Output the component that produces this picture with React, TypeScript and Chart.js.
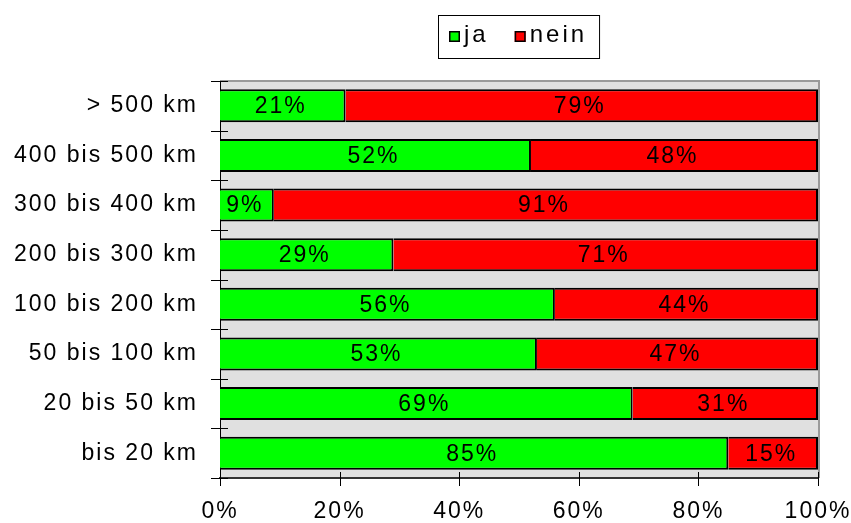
import React, { useEffect, useRef } from "react";
import { Chart, registerables } from "chart.js";

Chart.register(...registerables);

const categories = [
  "> 500 km",
  "400 bis 500 km",
  "300 bis 400 km",
  "200 bis 300 km",
  "100 bis 200 km",
  "50 bis 100 km",
  "20 bis 50 km",
  "bis 20 km",
];
const jaValues = [21, 52, 9, 29, 56, 53, 69, 85];
const neinValues = [79, 48, 91, 71, 44, 47, 31, 15];
const xTickValues = [0, 20, 40, 60, 80, 100];
const seriesNames = ["ja", "nein"];
const seriesColors = ["#00ff00", "#ff0000"];

const FONT_FAMILY = '"Liberation Sans", Arial, sans-serif';
const FONT_SIZE = 23;
const SPACING = "2px";

const spacingPlugin = {
  id: "spacing",
  beforeUpdate(chart: any) {
    chart.ctx.letterSpacing = SPACING;
  },
  beforeDraw(chart: any) {
    const ctx = chart.ctx;
    ctx.letterSpacing = SPACING;
    const a = chart.chartArea;
    ctx.save();
    ctx.fillStyle = "#e0e0e0";
    ctx.fillRect(a.left, a.top, a.right - a.left, a.bottom - a.top);
    ctx.strokeStyle = "#9a9a9a";
    ctx.lineWidth = 2;
    ctx.beginPath();
    ctx.moveTo(a.left, a.top);
    ctx.lineTo(a.right + 1, a.top);
    ctx.lineTo(a.right + 1, a.bottom);
    ctx.stroke();
    ctx.restore();
  },
};

const decorPlugin = {
  id: "decor",
  afterDatasetsDraw(chart: any) {
    const ctx = chart.ctx;
    const a = chart.chartArea;
    const xScale = chart.scales.x;
    ctx.save();
    // data labels
    ctx.font = `${FONT_SIZE}px ${FONT_FAMILY}`;
    ctx.fillStyle = "#000";
    ctx.textAlign = "center";
    ctx.textBaseline = "middle";
    chart.data.datasets.forEach((ds: any, di: number) => {
      const meta = chart.getDatasetMeta(di);
      meta.data.forEach((bar: any, i: number) => {
        const cx = (bar.x + bar.base) / 2 - 2;
        ctx.fillText(ds.data[i] + "%", cx, bar.y + 1);
      });
    });
    // category tick marks
    ctx.strokeStyle = "#000";
    ctx.lineWidth = 1;
    const n = categories.length;
    const step = (a.bottom - a.top) / n;
    ctx.beginPath();
    for (let i = 0; i <= n; i++) {
      const y = Math.round(a.top + i * step) + 0.5;
      ctx.moveTo(a.left - 9, y);
      ctx.lineTo(a.left + 8, y);
    }
    // value tick marks
    xTickValues.forEach((v) => {
      const x = Math.round(xScale.getPixelForValue(v)) + 0.5;
      ctx.moveTo(x, a.bottom - 6);
      ctx.lineTo(x, a.bottom + 8);
    });
    ctx.stroke();
    ctx.restore();
  },
  afterDraw(chart: any) {
    // legend
    const ctx = chart.ctx;
    const a = chart.chartArea;
    ctx.save();
    ctx.letterSpacing = "3px";
    ctx.font = `24px ${FONT_FAMILY}`;
    const sq = 11;
    const padL = 11;
    const padR = 12;
    const gap = 4;
    const itemGap = 26;
    const widths = chart.data.datasets.map((d: any) => ctx.measureText(d.label).width);
    let total = padL + padR;
    widths.forEach((w: number, i: number) => {
      total += sq + gap + w + (i > 0 ? itemGap : 0);
    });
    const cx = (a.left + a.right) / 2;
    const left = Math.round(cx - total / 2);
    const top = 15;
    const h = 43;
    ctx.strokeStyle = "#000";
    ctx.lineWidth = 1;
    ctx.strokeRect(left + 0.5, top + 0.5, total, h);
    let x = left + padL;
    const base = 42;
    chart.data.datasets.forEach((d: any, i: number) => {
      if (i > 0) x += itemGap;
      ctx.fillStyle = d.backgroundColor;
      ctx.fillRect(x, base - sq, sq, sq);
      ctx.strokeStyle = "#000";
      ctx.lineWidth = 1.5;
      ctx.strokeRect(x + 0.75, base - sq + 0.75, sq - 1.5, sq - 1.5);
      x += sq + gap;
      ctx.fillStyle = "#000";
      ctx.textAlign = "left";
      ctx.textBaseline = "alphabetic";
      ctx.fillText(d.label, x, base);
      x += widths[i];
    });
    ctx.restore();
  },
};

export default function App() {
  const canvasRef = useRef<HTMLCanvasElement | null>(null);

  useEffect(() => {
    const canvas = canvasRef.current;
    if (!canvas) return;
    const chart = new Chart(canvas, {
      type: "bar",
      data: {
        labels: categories,
        datasets: [
          {
            label: seriesNames[0],
            data: jaValues,
            backgroundColor: seriesColors[0],
            borderColor: "#000",
            borderWidth: 2,
            barPercentage: 0.665,
            categoryPercentage: 1,
          },
          {
            label: seriesNames[1],
            data: neinValues,
            backgroundColor: seriesColors[1],
            borderColor: "#000",
            borderWidth: 2,
            barPercentage: 0.665,
            categoryPercentage: 1,
          },
        ],
      },
      options: {
        indexAxis: "y",
        animation: false,
        responsive: false,
        devicePixelRatio: 1,
        layout: { padding: { top: 81, right: 33, left: 0, bottom: 0 } },
        plugins: {
          legend: { display: false },
          tooltip: { enabled: false },
        },
        scales: {
          x: {
            stacked: true,
            min: 0,
            max: 100,
            grid: { display: false, drawTicks: false },
            border: { display: true, color: "#333", width: 2 },
            afterBuildTicks: (scale: any) => {
              scale.ticks = xTickValues.map((v) => ({ value: v }));
            },
            afterFit: (scale: any) => {
              scale.height = 45;
              scale.paddingLeft = 0;
              scale.paddingRight = 0;
            },
            ticks: {
              padding: 20,
              maxRotation: 0,
              autoSkip: false,
              color: "#000",
              font: { family: FONT_FAMILY, size: FONT_SIZE },
              callback: (v: any) => v + "%",
            },
          },
          y: {
            stacked: true,
            grid: { display: false, drawTicks: false },
            border: { display: true, color: "#000", width: 1 },
            afterFit: (scale: any) => {
              scale.width = 220;
              scale.paddingTop = 0;
              scale.paddingBottom = 0;
            },
            ticks: {
              padding: 22,
              color: "#000",
              font: { family: FONT_FAMILY, size: FONT_SIZE },
            },
          },
        },
      },
      plugins: [spacingPlugin, decorPlugin],
    });
    return () => chart.destroy();
  }, []);

  return (
    <div style={{ position: "absolute", left: 0, top: 0, width: 851, height: 523, background: "#fff" }}>
      <canvas ref={canvasRef} width={851} height={523} style={{ display: "block" }} />
    </div>
  );
}
